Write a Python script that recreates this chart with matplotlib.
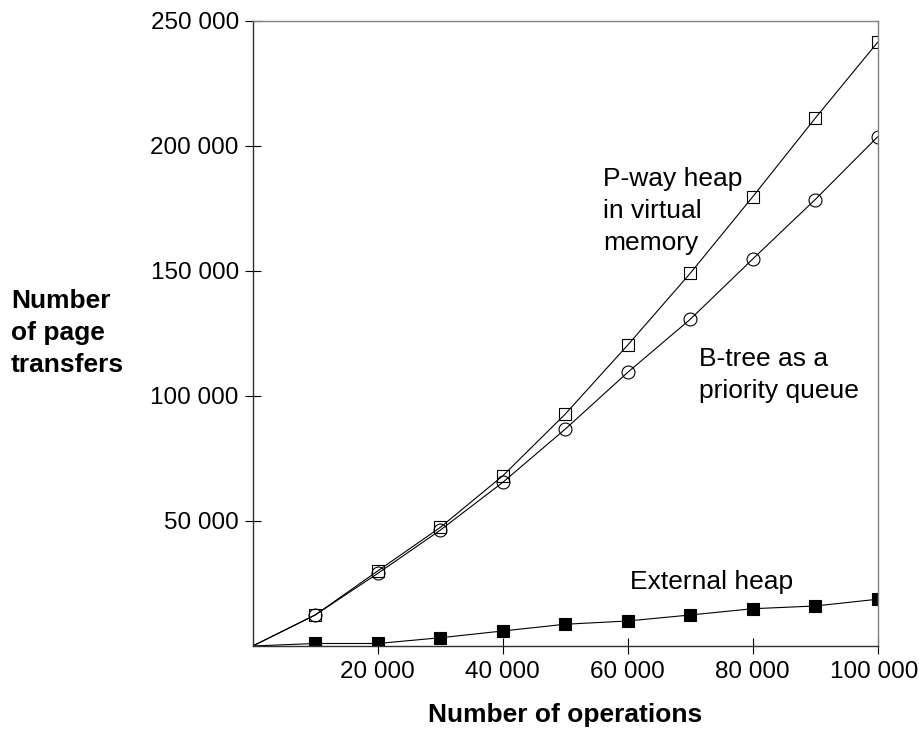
import matplotlib
matplotlib.use("Agg")
import matplotlib.pyplot as plt
import matplotlib.transforms as mtransforms
from matplotlib.ticker import FuncFormatter, FixedLocator

plt.rcParams['font.family'] = ['Liberation Sans', 'DejaVu Sans']

operations = [0, 10000, 20000, 30000, 40000, 50000, 60000, 70000, 80000, 90000, 100000]
pway_heap = [0, 12400, 30000, 47400, 68000, 92700, 120300, 149000, 179600, 211000, 241400]
btree_pq = [0, 12400, 29000, 46300, 65400, 86700, 109400, 130600, 154700, 178500, 203600]
external_heap = [0, 1000, 1000, 3300, 6000, 8700, 10000, 12400, 14900, 16000, 18700]

x_ticks = [20000, 40000, 60000, 80000, 100000]
y_ticks = [50000, 100000, 150000, 200000, 250000]

W, H = 920, 742
fig = plt.figure(figsize=(W / 100, H / 100), dpi=100)
ax = fig.add_axes([252.7 / W, 1 - 646 / H, 625 / W, 625.3 / H])

marks = list(range(1, len(operations)))
ax.plot(operations, pway_heap, color='black', lw=0.8, marker='s', ms=9.3,
        mfc='none', mec='black', mew=0.8, markevery=marks)
ax.plot(operations, btree_pq, color='black', lw=0.8, marker='o', ms=9.3,
        mfc='none', mec='black', mew=0.8, markevery=marks)
ax.plot(operations, external_heap, color='black', lw=0.8, marker='s', ms=8.5,
        mfc='black', mec='black', mew=0.8, markevery=marks)

ax.set_xlim(0, 100000)
ax.set_ylim(0, 250000)
ax.xaxis.set_major_locator(FixedLocator(x_ticks))
ax.yaxis.set_major_locator(FixedLocator(y_ticks))
fmt = FuncFormatter(lambda v, p: f"{v:,.0f}".replace(",", " "))
ax.xaxis.set_major_formatter(fmt)
ax.yaxis.set_major_formatter(fmt)
ax.tick_params(axis='x', direction='inout', length=12, width=0.8, pad=5,
               labelsize=17.5, color='black')
ax.tick_params(axis='y', direction='inout', length=12, width=0.8, pad=4,
               labelsize=17.5, color='black')

for s in ['left', 'bottom']:
    ax.spines[s].set_color('#303030')
    ax.spines[s].set_linewidth(1.0)
for s in ['top', 'right']:
    ax.spines[s].set_color('#808080')
    ax.spines[s].set_linewidth(1.0)

# keep the last x tick label inside the figure
fig.canvas.draw()
last = ax.get_xticklabels()[-1]
last.set_transform(last.get_transform() +
                   mtransforms.ScaledTranslation(-4 / 100, 0, fig.dpi_scale_trans))

def fy(py):
    return 1 - py / H

fig.text(565 / W, fy(722), 'Number of operations', ha='center', va='baseline',
         fontsize=19, fontweight='bold')
fig.text(11 / W, fy(371.7), 'Number\nof page\ntransfers', ha='left', va='baseline',
         fontsize=19, fontweight='bold', linespacing=1.42)
fig.text(603 / W, fy(250), 'P-way heap\nin virtual\nmemory', ha='left', va='baseline',
         fontsize=19, linespacing=1.42)
fig.text(699 / W, fy(398), 'B-tree as a\npriority queue', ha='left', va='baseline',
         fontsize=19, linespacing=1.42)
fig.text(630 / W, fy(589.3), 'External heap', ha='left', va='baseline', fontsize=19)

fig.savefig('out.png', dpi=100)
